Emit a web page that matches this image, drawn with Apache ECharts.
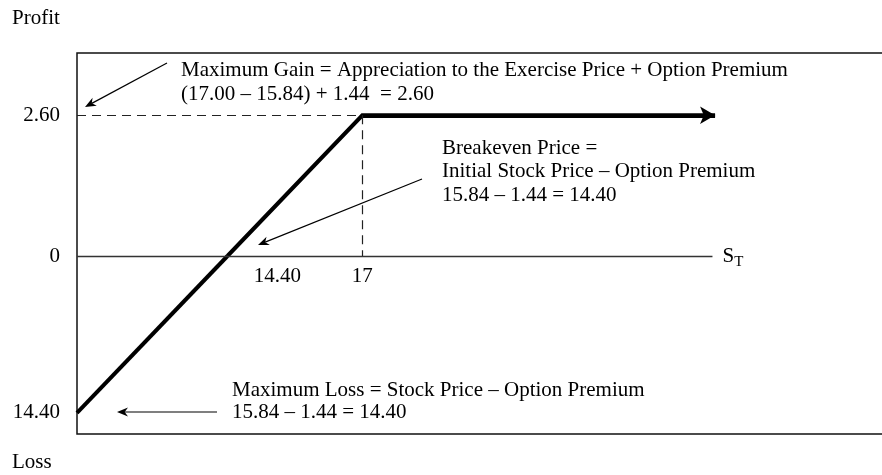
<!DOCTYPE html>
<html>
<head>
<meta charset="utf-8">
<script src="https://cdn.jsdelivr.net/npm/echarts@6.0.0/dist/echarts.min.js"></script>
<style>
html, body { margin: 0; padding: 0; background: #fff; }
#chart { width: 882px; height: 475px; }
</style>
</head>
<body>
<div id="chart"></div>
<script>
// values
var breakeven = 14.40;
var strike = 17;
var maxGain = 2.60;
var maxLoss = -14.40;
var lossX = [0, 14.40];
var lossY = [-14.40, 0];
var gainX = [14.40, 17, 23.8];
var gainY = [0, 2.60, 2.60];
var xTicks = [14.40, 17];
var xTickLabels = ['14.40', '17'];
var gainTicks = [0, 2.60];
var gainTickLabels = ['0', '2.60'];
var lossTicks = [-14.40];
var lossTickLabels = ['14.40'];
var stAxisEnd = 23.75;

var FONT = '"Liberation Serif", "Times New Roman", serif';
var FS = 21;
var INK = '#000';
var upperMin = 11.5;

function pick(vals, labels, v) {
  for (var i = 0; i < vals.length; i++) {
    if (Math.abs(vals[i] - v) < 1e-6) return labels[i];
  }
  return '';
}

// thin callout arrow with a notched head
function arrow(x1, y1, x2, y2) {
  var a = Math.atan2(y2 - y1, x2 - x1);
  var L = 11, W = 4.5;
  var c = Math.cos(a), s = Math.sin(a);
  var bx = x2 - L * c, by = y2 - L * s;
  var nx = x2 - L * 0.7 * c, ny = y2 - L * 0.7 * s;
  return [
    { type: 'line', shape: { x1: x1, y1: y1, x2: nx, y2: ny }, style: { stroke: '#000', lineWidth: 1.2 } },
    { type: 'polygon', shape: { points: [[x2, y2], [bx + W * s, by - W * c], [nx, ny], [bx - W * s, by + W * c]] }, style: { fill: '#000' } }
  ];
}

function txt(x, y, t) {
  return { type: 'text', x: x, y: y, style: { text: t, font: FS + 'px ' + FONT, fill: INK, verticalAlign: 'middle' } };
}

var labelStyle = { fontFamily: FONT, fontSize: FS, color: INK };

var graphics = [
  { type: 'rect', shape: { x: 77, y: 53, width: 900, height: 381 }, style: { fill: 'none', stroke: '#111', lineWidth: 1.5 } },
  txt(12, 18.5, 'Profit'),
  txt(12, 462, 'Loss'),
  txt(181, 70.5, 'Maximum Gain = Appreciation to the Exercise Price + Option Premium'),
  txt(181, 94, '(17.00 \u2013 15.84) + 1.44  = 2.60'),
  txt(442, 148, 'Breakeven Price ='),
  txt(442, 171, 'Initial Stock Price \u2013 Option Premium'),
  txt(442, 195, '15.84 \u2013 1.44 = 14.40'),
  txt(232, 390, 'Maximum Loss = Stock Price \u2013 Option Premium'),
  txt(232, 412, '15.84 \u2013 1.44 = 14.40')
].concat(arrow(167, 63, 85, 107))
 .concat(arrow(422, 179, 258, 245))
 .concat(arrow(217, 412, 117, 412));

var chart = echarts.init(document.getElementById('chart'));
chart.setOption({
  animation: false,
  backgroundColor: '#fff',
  grid: [
    { left: 77, top: 53, width: 830, height: 203, outerBoundsMode: 'none', containLabel: false },
    { left: 77, top: 256, width: 150.5, height: 178, outerBoundsMode: 'none', containLabel: false }
  ],
  xAxis: [
    {
      gridIndex: 0, type: 'value', min: upperMin, max: 27.5,
      axisLine: { show: false }, axisTick: { show: false }, splitLine: { show: false },
      axisLabel: {
        customValues: xTicks, margin: 10, fontFamily: FONT, fontSize: FS, color: INK,
        formatter: function (v) {
          var t = pick(xTicks, xTickLabels, v);
          return Math.abs(v - breakeven) < 1e-6 ? '{off|' + t + '}' : t;
        },
        rich: { off: { fontFamily: FONT, fontSize: FS, color: INK, padding: [0, 0, 0, 100] } }
      }
    },
    { gridIndex: 1, type: 'value', min: 0, max: breakeven, show: false }
  ],
  yAxis: [
    {
      gridIndex: 0, type: 'value', min: 0, max: 3.75,
      axisLine: { show: false }, axisTick: { show: false }, splitLine: { show: false },
      axisLabel: Object.assign({ customValues: gainTicks, margin: 17, formatter: function (v) { return pick(gainTicks, gainTickLabels, v); } }, labelStyle)
    },
    {
      gridIndex: 1, type: 'value', min: -16.33, max: 0,
      axisLine: { show: false }, axisTick: { show: false }, splitLine: { show: false },
      axisLabel: Object.assign({ customValues: lossTicks, margin: 17, formatter: function (v) { return pick(lossTicks, lossTickLabels, v); } }, labelStyle)
    }
  ],
  series: [
    {
      type: 'line', xAxisIndex: 1, yAxisIndex: 1, silent: true, clip: false,
      symbol: 'none', lineStyle: { color: '#000', width: 4 },
      data: lossX.map(function (x, i) { return [x, lossY[i]]; })
    },
    {
      type: 'line', xAxisIndex: 0, yAxisIndex: 0, silent: true, clip: false,
      symbol: 'none', lineStyle: { color: '#000', width: 4, join: 'miter' },
      data: gainX.map(function (x, i) { return [x, gainY[i]]; }),
      markLine: {
        silent: true, symbol: ['none', 'arrow'], symbolSize: [13, 15],
        label: { show: false },
        lineStyle: { color: '#000', width: 4, type: 'solid' },
        data: [[{ coord: [strike, maxGain] }, { coord: [gainX[gainX.length - 1], maxGain] }]]
      }
    },
    {
      type: 'line', xAxisIndex: 0, yAxisIndex: 0, silent: true, data: [],
      markLine: {
        silent: true, symbol: 'none', animation: false,
        data: [
          [
            { coord: [upperMin, 0], lineStyle: { color: '#333', width: 1.3, type: 'solid' },
              label: { show: true, position: 'end', distance: 10, formatter: '{s|S}{t|T}',
                rich: { s: { fontFamily: FONT, fontSize: FS, color: INK },
                        t: { fontFamily: FONT, fontSize: 15, color: INK, padding: [12, 0, 0, 0] } } } },
            { coord: [stAxisEnd, 0] }
          ],
          [
            { coord: [upperMin, maxGain], lineStyle: { color: '#222', width: 1.2, type: [9, 6] }, label: { show: false } },
            { coord: [strike, maxGain] }
          ],
          [
            { coord: [strike, maxGain], lineStyle: { color: '#222', width: 1.2, type: [9, 6] }, label: { show: false } },
            { coord: [strike, 0] }
          ]
        ]
      }
    }
  ],
  graphic: graphics
});
</script>
</body>
</html>
